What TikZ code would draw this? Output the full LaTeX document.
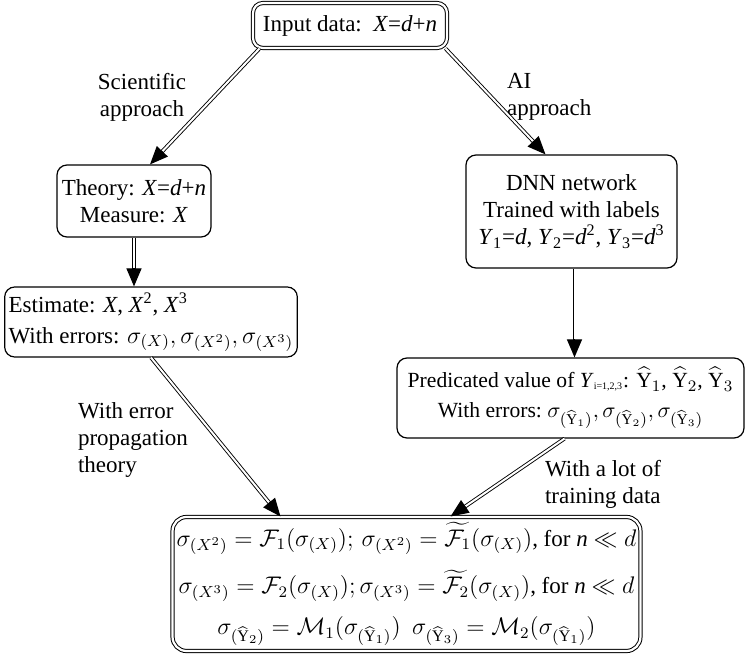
\documentclass[tikz,border=0pt]{standalone}
\usepackage{amsmath, amssymb}
\usepackage{fontspec}
\setmainfont{Liberation Serif}
\usepackage{tikz}
\usetikzlibrary{arrows.meta, positioning, calc}
\newcommand{\hY}[1]{\widehat{\mathrm{Y}}_{#1}}
\newcommand{\dlink}[2]{\draw[link] (#1) -- (#2); \draw[tip] ($(#2)!9pt!(#1)$) -- (#2);}

\begin{document}
\begin{tikzpicture}[x=0.5pt, y=-0.5pt, font=\fontsize{11.5}{13.5}\selectfont,
  box/.style={draw, rounded corners=5pt, line width=0.6pt, align=center, inner sep=2pt},
  dblbox/.style={box, double, double distance=1.1pt, line width=0.5pt},
  link/.style={double, double distance=1pt, line width=0.45pt, shorten >=8pt},
  tip/.style={-{Triangle[length=9pt, width=7.5pt]}, line width=0.6pt}]
  \useasboundingbox (0,0) rectangle (746,658);

  \node[dblbox, minimum width=97pt, minimum height=22.5pt] (in) at (350,25.5) {Input data:\ \ \textit{X}=\textit{d}+\textit{n}};

  \node[box, minimum width=77pt, minimum height=36pt] (th) at (134,201) {Theory: \textit{X}=\textit{d}+\textit{n}\\Measure: \textit{X}};
  \node[box, minimum width=105.5pt, minimum height=56.5pt] (dnn) at (571.5,211.5) {DNN network\\Trained with labels\\
  \textit{Y}\textsubscript{1}=\textit{d}, \textit{Y}\textsubscript{2}=\textit{d}\textsuperscript{2}, \textit{Y}\textsubscript{3}=\textit{d}\textsuperscript{3}};

  \node[box, align=left, minimum width=142pt, minimum height=35pt] (est) at (151,322) {Estimate: \textit{X}, \textit{X}\textsuperscript{2}, \textit{X}\textsuperscript{3}\\[2pt]
  With errors: $\sigma_{(X)},\sigma_{(X^2)},\sigma_{(X^3)}$};
  \node[box, inner sep=1pt, minimum width=173.5pt, minimum height=40pt, font=\fontsize{10.8}{13}\selectfont] (pred) at (570.5,398) {Predicated value of \textit{Y}{\fontsize{7}{8}\selectfont\textsubscript{i=1,2,3}}: $\hY{1}$, $\hY{2}$, $\hY{3}$\\[2pt]
  With errors:\ $\sigma_{(\hY{1})},\sigma_{(\hY{2})},\sigma_{(\hY{3})}$};

  \node[dblbox, rounded corners=7pt, minimum width=184.5pt, minimum height=67pt] (res) at (406.5,584) {%
  $\sigma_{(X^2)}=\mathcal{F}_1(\sigma_{(X)});\,\sigma_{(X^2)}=\widetilde{\mathcal{F}_1}(\sigma_{(X)})$, for \textit{n} $\ll d$\\[7pt]
  $\sigma_{(X^3)}=\mathcal{F}_2(\sigma_{(X)});\sigma_{(X^3)}=\widetilde{\mathcal{F}_2}(\sigma_{(X)})$, for \textit{n} $\ll d$\\[7pt]
  $\sigma_{(\hY{2})}=\mathcal{M}_1(\sigma_{(\hY{1})})\ \ \sigma_{(\hY{3})}=\mathcal{M}_2(\sigma_{(\hY{1})})$};

  % labels on the links
  \node[align=center] (sci) at (142,97) {Scientific\\approach};
  \node[align=left, anchor=west] (ai) at (500,97) {AI\\approach};
  \node[align=left, anchor=west] (errp) at (71,440) {With error\\propagation\\theory};
  \node[align=left, anchor=west] (lot) at (538,484) {With a lot of\\training data};

  % link ends
  \coordinate (in-l) at ([xshift=3.5pt]in.south west);
  \coordinate (in-r) at ([xshift=-1pt]in.south east);
  \coordinate (th-t) at ([xshift=8pt]th.north);
  \coordinate (dnn-t) at ([xshift=-13pt]dnn.north);
  \coordinate (est-t) at (th.south |- est.north);
  \coordinate (dnn-b) at ([xshift=1.5pt]dnn.south);
  \coordinate (pred-t) at (dnn-b |- pred.north);
  \coordinate (pred-b) at ([xshift=-3pt]pred.south);
  \coordinate (res-l) at ([xshift=-63pt]res.north);
  \coordinate (res-r) at ([xshift=22pt]res.north);

  \dlink{in-l}{th-t}
  \dlink{in-r}{dnn-t}
  \dlink{th.south}{est-t}
  \dlink{dnn-b}{pred-t}
  \dlink{est.south}{res-l}
  \dlink{pred-b}{res-r}
\end{tikzpicture}
\end{document}
